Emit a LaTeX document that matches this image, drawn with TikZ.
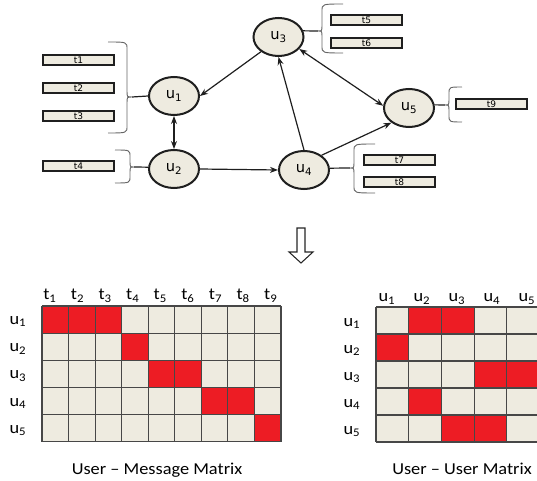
\documentclass[tikz,border=0pt]{standalone}
\usepackage{fontspec}
\usetikzlibrary{shapes.geometric,arrows.meta}
\newfontfamily\calib[FakeStretch=1.1]{Carlito}
\newfontfamily\dejavu{DejaVu Sans}
\definecolor{cellbg}{RGB}{238,235,224}
\definecolor{cellred}{RGB}{237,28,36}
\newcommand{\cbrace}[7]{% name, xend, xv, ytop, ycusp, ybot, xtip
  \coordinate (#1) at (#7,#5);
  \draw[bracel] (#2,#4) .. controls (#3,#4) .. (#3,{#4+7}) -- (#3,{#5-6})
     .. controls (#3,#5) .. (#1) .. controls (#3,#5) .. (#3,{#5+6})
     -- (#3,{#6-7}) .. controls (#3,#6) .. (#2,#6);}
\tikzset{
  user/.style={ellipse, draw=black!88, line width=1.5pt, fill=cellbg,
    minimum width=37.5pt, minimum height=28.5pt, inner sep=0pt,
    font=\dejavu\fontsize{11}{13}\selectfont},
  msg/.style={rectangle, draw=black!88, line width=1.4pt, fill=cellbg,
    minimum width=53.5pt, minimum height=7pt, inner sep=0pt,
    font=\dejavu\fontsize{6.8}{7}\selectfont},
  edge/.style={draw=black!88, line width=0.9pt, -{Stealth[length=6pt,width=4.5pt]}},
  bothedge/.style={draw=black!88, line width=0.9pt,
    {Stealth[length=6pt,width=4.5pt]}-{Stealth[length=6pt,width=4.5pt]}},
  bracel/.style={draw=black!60, line width=0.7pt},
  link/.style={draw=black!88, line width=0.9pt},
  hollowarrow/.style={draw=black!85, line width=0.8pt, fill=white, line join=miter},
  gridl/.style={draw=black!72, line width=0.9pt},
  mlabel/.style={inner sep=0pt, anchor=base, font=\calib\fontsize{12.5}{14}\selectfont},
  caption/.style={inner sep=0pt, anchor=base, font=\calib\fontsize{12.5}{15}\selectfont},
}
\begin{document}
\begin{tikzpicture}[x=0.75pt,y=-0.75pt]
\useasboundingbox (0,0) rectangle (537,481);

% ---------- graph ----------
\node[user] (u1) at (174,96)   {u\textsubscript{1}};
\node[user] (u2) at (174,169)  {u\textsubscript{2}};
\node[user] (u3) at (278.5,37) {u\textsubscript{3}};
\node[user] (u4) at (304,170)  {u\textsubscript{4}};
\node[user] (u5) at (409,108)  {u\textsubscript{5}};

\node[msg] (t1) at (78.5,60)  {t1};
\node[msg] (t2) at (78.5,88)  {t2};
\node[msg] (t3) at (78.5,116) {t3};
\node[msg] (t4) at (78.5,166) {t4};
\node[msg] (t5) at (366.5,20) {t5};
\node[msg] (t6) at (366.5,43) {t6};
\node[msg] (t7) at (399.5,160) {t7};
\node[msg] (t8) at (399.5,182) {t8};
\node[msg] (t9) at (491.5,104) {t9};

\cbrace{b1}{108}{127}{42}{97}{133}{132}
\cbrace{b2}{115}{130}{150}{167}{183}{134}
\cbrace{b3}{343}{322}{4}{31}{53}{318}
\cbrace{b4}{375}{354}{144}{168}{193}{350}
\cbrace{b5}{462}{449}{87}{105}{122}{445}

\draw[link] (u1.west) -- (b1);
\draw[link] (u2.176) -- (b2);
\draw[link] (u3.14) -- (b3);
\draw[link] (u4.4) -- (b4);
\draw[link] (u5.7) -- (b5);

\draw[edge] (u3.220) -- (u1.east);
\draw[bothedge] (u1.south) -- (u2.north);
\draw[edge] (u2.east) -- (u4.west);
\draw[edge] (u4.north) -- (u3.south);
\draw[bothedge] (u3.-30) -- (u5.175);
\draw[edge] (u4.40) -- (u5.220);

% ---------- down arrow ----------
\draw[hollowarrow] (297,228) -- (305,228) -- (305,252) -- (313,252) -- (301,263)
   -- (289,252) -- (297,252) -- cycle;

% ---------- user-message matrix ----------
\def\umx{42}\def\umy{306}\def\umw{26.55}\def\umh{27.15}
\fill[cellbg] (\umx,\umy) rectangle ({\umx+9*\umw},{\umy+5*\umh});
\foreach \c/\r in {1/1,2/1,3/1,4/2,5/3,6/3,7/4,8/4,9/5}
  \fill[cellred] ({\umx+(\c-1)*\umw},{\umy+(\r-1)*\umh}) rectangle ({\umx+\c*\umw},{\umy+\r*\umh});
\foreach \c in {0,...,9}
  \draw[gridl] ({\umx+\c*\umw},\umy) -- ({\umx+\c*\umw},{\umy+5*\umh});
\foreach \r in {0,...,5}
  \draw[gridl] (\umx,{\umy+\r*\umh}) -- ({\umx+9*\umw},{\umy+\r*\umh});
\foreach \i in {1,...,9}
  \node[mlabel] (umc\i) at ({50+(\i-1)*27.6},300) {t\textsubscript{\i}};
\foreach \i in {1,...,5}
  \node[mlabel] (umr\i) at (18,{\umy+(\i-0.5)*\umh+5}) {u\textsubscript{\i}};
\node[caption] (capum) at (157,475) {User – Message Matrix};

% ---------- user-user matrix ----------
\def\uux{376}\def\uuy{307}\def\uuw{32.7}\def\uuh{27}
\fill[cellbg] (\uux,\uuy) rectangle ({\uux+5*\uuw},{\uuy+5*\uuh});
\foreach \c/\r in {2/1,3/1,1/2,4/3,5/3,2/4,3/5,4/5}
  \fill[cellred] ({\uux+(\c-1)*\uuw},{\uuy+(\r-1)*\uuh}) rectangle ({\uux+\c*\uuw},{\uuy+\r*\uuh});
\foreach \c in {0,...,5}
  \draw[gridl] ({\uux+\c*\uuw},\uuy) -- ({\uux+\c*\uuw},{\uuy+5*\uuh});
\foreach \r in {0,...,5}
  \draw[gridl] (\uux,{\uuy+\r*\uuh}) -- ({\uux+5*\uuw},{\uuy+\r*\uuh});
\foreach \i in {1,...,5}
  \node[mlabel] (uuc\i) at ({387+(\i-1)*35},302) {u\textsubscript{\i}};
\foreach \i in {1,...,5}
  \node[mlabel] (uur\i) at (352,{\uuy+(\i-0.5)*\uuh+6}) {u\textsubscript{\i}};
\node[caption] (capuu) at (462,475) {User – User Matrix};
\end{tikzpicture}
\end{document}
